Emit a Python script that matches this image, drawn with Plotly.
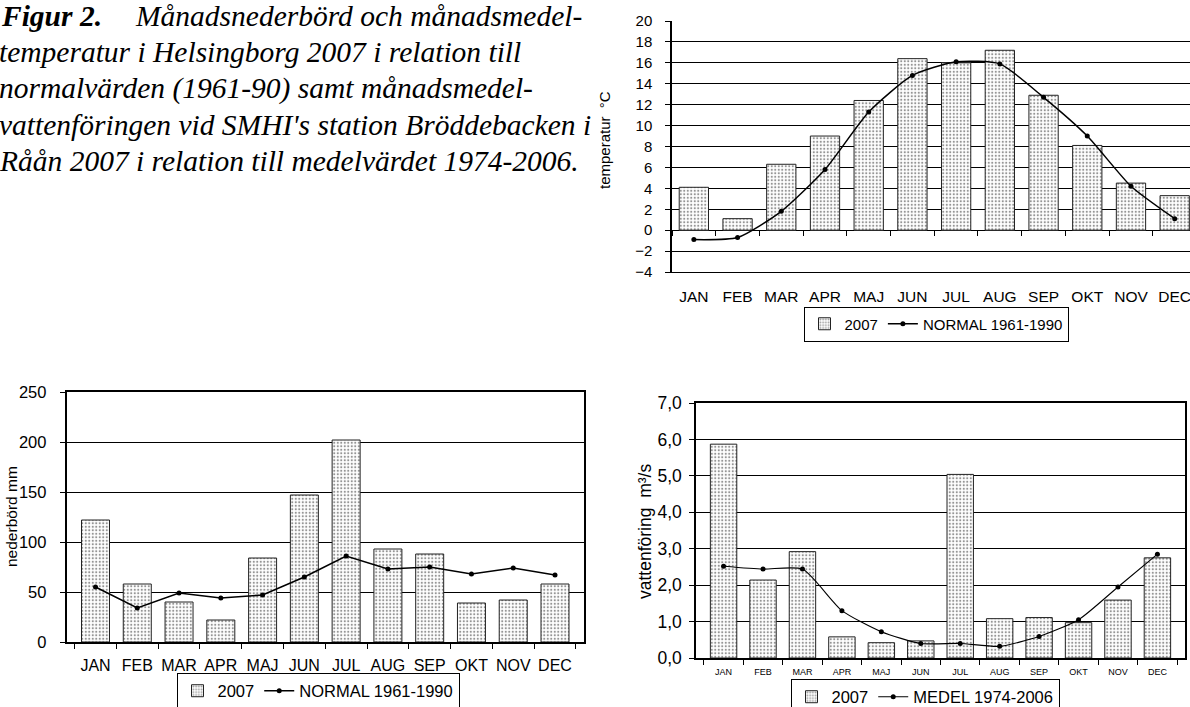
import plotly.graph_objects as go

W, H = 1190, 707

months = ["JAN", "FEB", "MAR", "APR", "MAJ", "JUN", "JUL", "AUG", "SEP", "OKT", "NOV", "DEC"]

# Monthly mean temperature, Helsingborg (°C)
temp_2007 = [4.1, 1.1, 6.3, 9.0, 12.4, 16.4, 16.0, 17.2, 12.9, 8.1, 4.5, 3.3]
temp_normal = [-0.9, -0.7, 1.8, 5.8, 11.3, 14.8, 16.1, 15.9, 12.7, 9.0, 4.2, 1.1]

# Monthly precipitation, Helsingborg (mm)
precip_2007 = [122, 58, 40, 22, 84, 147, 202, 93, 88, 39, 42, 58]
precip_normal = [55, 34, 49, 44, 47, 65, 86, 73, 75, 68, 74, 67]

# Monthly mean discharge, Råån at Bröddebacken (m³/s)
flow_2007 = [5.87, 2.14, 2.92, 0.58, 0.42, 0.47, 5.04, 1.08, 1.11, 0.97, 1.59, 2.75]
flow_mean = [2.52, 2.44, 2.44, 1.30, 0.72, 0.40, 0.40, 0.32, 0.59, 1.05, 1.95, 2.85]

caption_lines = [
    "temperatur i Helsingborg 2007 i relation till",
    "normalvärden (1961-90) samt månadsmedel-",
    "vattenföringen vid SMHI's station Bröddebacken i",
    "Råån 2007 i relation till medelvärdet 1974-2006.",
]

SANS = "Liberation Sans, Arial, sans-serif"
SERIF = "Liberation Serif, Times New Roman, serif"
INK = "#000000"


def px(p):
    return p / W


def py(p):
    return 1 - p / H


dots = dict(shape=".", fgcolor="#2a2a2a", bgcolor="white", size=3.5, solidity=0.3)
bar_marker = dict(color="white", pattern=dots, line=dict(color="#222222", width=1))

fig = go.Figure()

# --- temperature panel ---
fig.add_bar(x=months, y=temp_2007, xaxis="x", yaxis="y", name="2007",
            marker=bar_marker, legend="legend")
fig.add_scatter(x=months, y=temp_normal, xaxis="x4", yaxis="y", name="NORMAL 1961-1990",
                mode="lines+markers", legend="legend",
                line=dict(color=INK, width=1.5, shape="spline", smoothing=0.6),
                marker=dict(color=INK, size=5))

# --- precipitation panel ---
fig.add_bar(x=months, y=precip_2007, xaxis="x2", yaxis="y2", name="2007",
            marker=bar_marker, legend="legend2")
fig.add_scatter(x=months, y=precip_normal, xaxis="x2", yaxis="y2", name="NORMAL 1961-1990",
                mode="lines+markers", legend="legend2",
                line=dict(color=INK, width=1.6),
                marker=dict(color=INK, size=5))

# --- discharge panel ---
fig.add_bar(x=months, y=flow_2007, xaxis="x3", yaxis="y3", name="2007",
            marker=bar_marker, legend="legend3")
fig.add_scatter(x=months, y=flow_mean, xaxis="x3", yaxis="y3", name="MEDEL 1974-2006",
                mode="lines+markers", legend="legend3",
                line=dict(color=INK, width=1.1, shape="spline", smoothing=0.6),
                marker=dict(color=INK, size=5))

grid = dict(showgrid=True, gridcolor=INK, gridwidth=1)
yline = dict(showline=True, linecolor=INK, linewidth=1.5, ticks="outside", ticklen=5,
             tickcolor=INK, tickwidth=1, zeroline=False)

# Temperature axes: plot area runs off the right edge of the page
top_dom_x = [px(672), 1.0]
top_dom_y = [py(272), py(21)]
y_zero_frac = (0 - (-4)) / (20 - (-4))
y_zero_paper = top_dom_y[0] + y_zero_frac * (top_dom_y[1] - top_dom_y[0])

fig.update_layout(
    xaxis=dict(domain=top_dom_x, anchor="y", type="category", range=[-0.5, 11.35],
               showgrid=False, showline=True, linecolor=INK, linewidth=1,
               ticks="", tickangle=0, tickfont=dict(family=SANS, size=15.5, color=INK),
               ticklabelstandoff=10),
    xaxis4=dict(overlaying="x", anchor="free", position=y_zero_paper, type="category",
                range=[-0.5, 11.35], showgrid=False, showline=False,
                ticks="outside", tickson="boundaries", ticklen=5, tickcolor=INK,
                showticklabels=False),
    yaxis=dict(domain=top_dom_y, anchor="x", range=[-4, 20], dtick=2, tick0=0,
               tickfont=dict(family=SANS, size=15, color=INK), ticklabelstandoff=10,
               **grid, **yline),
    xaxis2=dict(domain=[px(66.5), px(584)], anchor="y2", type="category",
                showgrid=False, showline=True, linecolor=INK, linewidth=1.5, mirror=True,
                ticks="outside", tickson="boundaries", ticklen=5, tickcolor=INK, tickangle=0,
                tickfont=dict(family=SANS, size=16, color=INK), ticklabelstandoff=8),
    yaxis2=dict(domain=[py(642), py(392)], anchor="x2", range=[0, 250], dtick=50,
                mirror=True, tickfont=dict(family=SANS, size=16.5, color=INK),
                ticklabelstandoff=10, **grid, **yline),
    xaxis3=dict(domain=[px(696), px(1185)], anchor="y3", type="category",
                showgrid=False, showline=True, linecolor=INK, linewidth=1.5, mirror=True,
                ticks="outside", tickson="boundaries", ticklen=5, tickcolor=INK, tickangle=0,
                tickfont=dict(family=SANS, size=9, color=INK), ticklabelstandoff=4),
    yaxis3=dict(domain=[py(658), py(403)], anchor="x3", range=[0, 7], dtick=1,
                tickformat=".1f", mirror=True,
                tickfont=dict(family=SANS, size=17.5, color=INK),
                ticklabelstandoff=4, **grid, **yline),
)

legend_style = dict(orientation="h", xanchor="center", yanchor="middle", bgcolor="white",
                    bordercolor=INK, borderwidth=1, itemwidth=30, tracegroupgap=0,
                    traceorder="normal", itemclick=False)
fig.update_layout(
    legend=dict(x=px(936), y=py(324), font=dict(family=SANS, size=15, color=INK), **legend_style),
    legend2=dict(x=px(318), y=py(691), font=dict(family=SANS, size=16.5, color=INK), **legend_style),
    legend3=dict(x=px(925), y=py(697), font=dict(family=SANS, size=16.5, color=INK), **legend_style),
)

annotations = [
    dict(text="temperatur  °C", x=px(605), y=py(140), textangle=-90,
         font=dict(family=SANS, size=15, color=INK)),
    dict(text="nederbörd mm", x=px(11), y=py(517), textangle=-90,
         font=dict(family=SANS, size=15.5, color=INK)),
    dict(text="vattenföring  m³/s", x=px(645), y=py(532), textangle=-90,
         font=dict(family=SANS, size=17.5, color=INK)),
    dict(text="<b><i>Figur 2.</i></b>", x=0, y=py(16), xanchor="left", xshift=-1,
         font=dict(family=SERIF, size=29.5, color=INK)),
    dict(text="<i>Månadsnederbörd och månadsmedel-</i>", x=px(133), y=py(16), xanchor="left",
         font=dict(family=SERIF, size=29.5, color=INK)),
]
for i, line in enumerate(caption_lines):
    annotations.append(dict(text=f"<i>{line}</i>", x=0, y=py(52 + i * 36.5), xanchor="left",
                            xshift=-3, font=dict(family=SERIF, size=29.5, color=INK)))
for a in annotations:
    a.setdefault("xanchor", "center")
    a.update(xref="paper", yref="paper", yanchor="middle", showarrow=False)

fig.update_layout(
    annotations=annotations,
    width=W, height=H,
    margin=dict(l=0, r=0, t=0, b=0, autoexpand=False),
    paper_bgcolor="white", plot_bgcolor="white",
    bargap=0.33,
    separators=", ",
    showlegend=True,
    font=dict(family=SANS, color=INK),
)

fig.write_html("out.html")
